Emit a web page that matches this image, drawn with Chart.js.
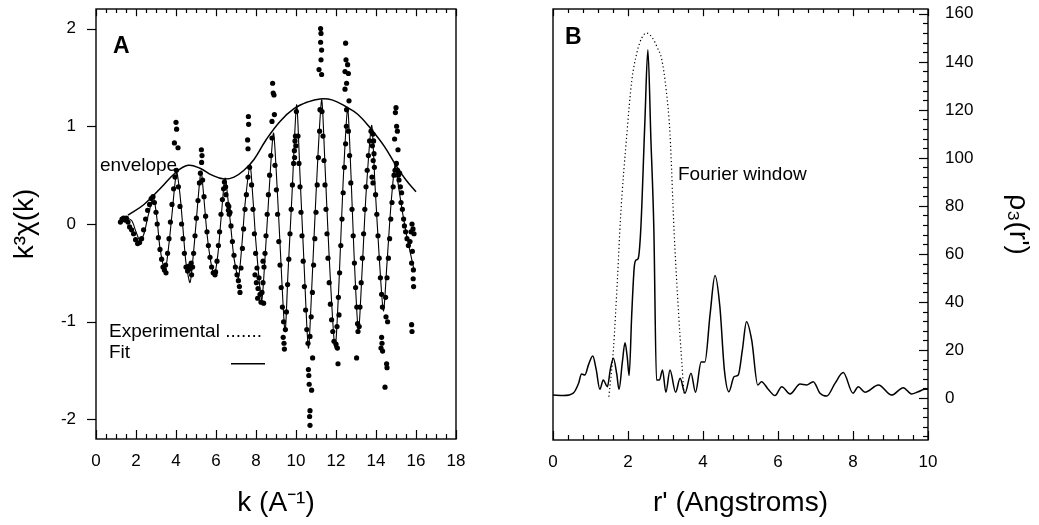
<!DOCTYPE html>
<html>
<head>
<meta charset="utf-8">
<script src="https://cdn.jsdelivr.net/npm/chart.js@4.4.1/dist/chart.umd.min.js"></script>
<style>
  body { margin: 0; background: #fff; }
  #wrap { position: relative; width: 1039px; height: 525px; }
  canvas { position: absolute; top: 0; }
  #chartA { left: 0; }
  #chartB { left: 530px; }
</style>
</head>
<body>
<div id="wrap">
  <canvas id="chartA" width="470" height="525"></canvas>
  <canvas id="chartB" width="509" height="525"></canvas>
</div>
<script>
const FONT = '"Liberation Sans", Arial, Helvetica, sans-serif';

// Panel A: experimental k^3 chi(k) points [k, value]
const expData = [
  [1.22,0.02],[1.3,0.05],[1.38,0.06],[1.45,0.04],[1.52,0.06],[1.6,0.02],[1.68,-0.03],[1.78,-0.06],[1.88,-0.1],[1.98,-0.16],
  [2.08,-0.2],[2.18,-0.19],[2.28,-0.15],[2.38,-0.06],[2.48,0.05],[2.58,0.14],[2.68,0.2],[2.76,0.26],[2.85,0.28],[2.92,0.22],
  [3.0,0.12],[3.06,0.0],[3.12,-0.14],[3.2,-0.26],[3.28,-0.36],[3.35,-0.44],[3.42,-0.47],[3.5,-0.5],[3.48,-0.42],[3.58,-0.3],
  [3.65,-0.15],[3.72,0.02],[3.8,0.2],[3.88,0.36],[3.95,0.48],[4.02,0.55],[4.0,1.04],[4.03,0.97],[3.92,0.83],[4.1,0.78],
  [4.12,0.38],[4.2,0.18],[4.28,0.0],[4.35,-0.15],[4.42,-0.3],[4.5,-0.44],[4.58,-0.48],[4.65,-0.43],[4.7,-0.46],[4.76,-0.4],
  [4.83,-0.44],[4.78,-0.52],[4.88,-0.3],[4.95,-0.12],[5.02,0.06],[5.1,0.24],[5.17,0.42],[5.22,0.52],[5.28,0.63],[5.3,0.7],[5.27,0.76],
  [5.33,0.45],[5.4,0.28],[5.48,0.08],[5.55,-0.08],[5.62,-0.22],[5.7,-0.34],[5.78,-0.44],[5.86,-0.5],[5.95,-0.52],[5.98,-0.49],
  [6.05,-0.38],[6.12,-0.22],[6.18,-0.08],[6.25,0.1],[6.32,0.25],[6.38,0.36],[6.42,0.43],[6.48,0.38],[6.5,0.3],
  [6.58,0.2],[6.62,0.14],[6.66,0.1],[6.7,0.12],[6.64,0.18],
  [6.75,-0.02],[6.82,-0.18],[6.9,-0.32],[6.97,-0.44],[7.05,-0.52],[7.12,-0.58],[7.17,-0.64],[7.2,-0.7],[7.25,-0.45],[7.32,-0.25],
  [7.38,-0.05],[7.45,0.15],[7.52,0.3],[7.6,0.48],[7.68,0.58],[7.62,1.1],[7.63,1.02],[7.58,0.86],[7.6,0.77],
  [7.78,0.4],[7.85,0.15],[7.92,-0.1],[7.98,-0.3],[7.95,-0.52],[8.02,-0.6],[8.05,-0.45],[8.1,-0.66],[8.08,-0.76],[8.15,-0.55],
  [8.2,-0.72],[8.25,-0.8],[8.3,-0.7],[8.35,-0.6],[8.38,-0.81],[8.4,-0.44],[8.45,-0.3],[8.35,-0.38],[8.5,-0.12],[8.56,0.1],
  [8.62,0.3],[8.68,0.5],[8.74,0.7],[8.8,0.88],[8.83,1.44],[8.86,1.34],[8.9,1.32],[8.8,1.05],[8.92,1.12],
  [8.95,0.6],[9.02,0.35],[9.08,0.1],[9.14,-0.18],[9.2,-0.42],[9.26,-0.65],[9.32,-0.85],[9.38,-1.0],[9.36,-1.16],[9.4,-1.22],
  [9.42,-1.28],[9.47,-1.08],[9.52,-0.9],[9.58,-0.62],[9.64,-0.36],[9.7,-0.1],[9.76,0.15],[9.82,0.4],[9.88,0.62],[9.92,0.75],
  [9.95,0.85],[9.97,0.9],[9.93,0.68],[10.0,0.8],[10.02,1.15],
  [10.1,0.9],[10.15,0.62],[10.2,0.38],[10.25,0.12],[10.3,-0.12],[10.36,-0.38],[10.42,-0.64],[10.48,-0.88],[10.54,-1.08],[10.6,-1.22],
  [10.62,-1.49],[10.64,-1.55],[10.66,-1.64],[10.78,-1.7],[10.7,-1.91],[10.68,-1.97],[10.7,-2.06],[10.83,-1.37],[10.7,-1.15],[10.76,-0.95],
  [10.82,-0.7],[10.88,-0.42],[10.94,-0.15],[11.0,0.12],[11.06,0.4],[11.12,0.68],[11.18,0.95],[11.2,1.17],[11.3,1.15],
  [11.23,2.0],[11.25,1.95],[11.23,1.86],[11.28,1.78],[11.25,1.68],[11.15,1.58],[11.28,1.53],
  [11.35,0.9],[11.4,0.65],[11.45,0.4],[11.5,0.15],[11.55,-0.1],[11.6,-0.35],[11.66,-0.6],[11.72,-0.82],[11.78,-0.98],[11.84,-1.1],
  [11.9,-1.2],[12.0,-1.23],[12.07,-1.27],[12.1,-1.43],[12.15,-0.93],[12.05,-1.05],[12.12,-0.75],[12.18,-0.5],[12.24,-0.22],[12.3,0.05],
  [12.36,0.32],[12.42,0.58],[12.48,0.82],[12.52,1.0],[12.48,1.85],[12.5,1.68],[12.58,1.63],[12.45,1.56],[12.62,1.54],[12.53,1.44],
  [12.45,1.38],[12.65,1.26],[12.53,1.17],
  [12.62,0.95],[12.68,0.7],[12.74,0.42],[12.8,0.15],[12.86,-0.12],[12.92,-0.4],[12.98,-0.65],[13.04,-0.85],[13.08,-1.02],[13.03,-1.37],
  [13.1,-1.1],[13.16,-1.05],[13.2,-0.85],[13.26,-0.6],[13.32,-0.35],[13.38,-0.1],[13.44,0.15],[13.5,0.38],[13.56,0.55],[13.62,0.7],
  [13.68,0.85],[13.75,0.95],[13.85,0.92],[13.88,0.85],[13.82,0.8],[13.9,0.72],[13.86,0.65],[13.92,0.58],[13.8,0.48],[13.85,0.42],
  [13.98,0.3],[14.04,0.1],[14.1,-0.12],[14.16,-0.35],[14.22,-0.55],[14.28,-0.72],[14.32,-0.85],[14.28,-1.16],[14.3,-1.22],[14.33,-1.3],
  [14.25,-1.27],[14.53,-1.43],[14.55,-1.47],[14.45,-1.67],[14.58,-1.0],[14.5,-0.95],[14.48,-0.75],[14.55,-0.55],[14.62,-0.35],[14.68,-0.15],
  [14.74,0.05],[14.8,0.22],[14.86,0.38],[14.9,0.5],[14.95,0.55],[15.0,1.19],[14.97,1.14],[15.03,1.0],[15.07,0.95],[14.93,0.87],[15.1,0.76],
  [15.02,0.62],[15.08,0.55],[15.12,0.5],[15.18,0.52],[15.15,0.45],[15.22,0.38],[15.28,0.32],[15.25,0.22],[15.32,0.15],[15.38,0.05],
  [15.42,-0.02],[15.48,-0.08],[15.55,-0.15],[15.62,-0.22],[15.7,-0.18],[15.75,-0.08],[15.8,0.0],[15.85,-0.05],[15.9,-0.1],[15.82,-0.28],
  [15.78,-0.4],[15.87,-0.47],[15.86,-0.56],[15.88,-0.64],[15.78,-1.03],[15.8,-1.1]
];

// Panel A: fit curve
const fitData = [
  [1.3,0.02],[1.55,0.06],[1.8,0.03],[2.0,-0.08],[2.2,-0.17],[2.4,-0.1],[2.6,0.08],[2.87,0.27],[3.05,0.05],[3.2,-0.25],
  [3.45,-0.48],[3.65,-0.2],[3.8,0.1],[4.03,0.53],[4.2,0.3],[4.35,-0.05],[4.5,-0.4],[4.7,-0.6],[4.85,-0.35],[5.0,0.0],
  [5.25,0.54],[5.4,0.25],[5.55,-0.1],[5.75,-0.4],[5.92,-0.52],[6.1,-0.3],[6.25,0.05],[6.45,0.47],[6.6,0.25],[6.75,-0.05],
  [6.9,-0.35],[7.12,-0.55],[7.3,-0.2],[7.45,0.2],[7.7,0.6],[7.85,0.25],[8.0,-0.2],[8.28,-0.78],[8.45,-0.35],[8.6,0.15],
  [8.87,0.93],[9.05,0.4],[9.2,-0.2],[9.45,-1.1],[9.6,-0.5],[9.8,0.3],[10.03,1.22],[10.2,0.5],[10.4,-0.4],[10.62,-1.27],
  [10.8,-0.6],[11.0,0.3],[11.28,1.27],[11.45,0.6],[11.65,-0.3],[11.95,-1.27],[12.15,-0.6],[12.35,0.4],[12.58,1.18],[12.75,0.5],
  [12.9,-0.3],[13.12,-1.1],[13.3,-0.5],[13.5,0.3],[13.78,1.01],[13.95,0.4],[14.15,-0.3],[14.37,-0.89],[14.55,-0.4],[14.75,0.2],
  [14.95,0.6],[15.1,0.42],[15.3,0.15],[15.5,-0.08],[15.7,-0.28],[15.88,-0.45]
];

// Panel A: envelope
const envelopeData = [
  [1.6,0.09],[2.4,0.2],[3.2,0.36],[4.0,0.53],[4.6,0.6],[5.2,0.57],[5.8,0.5],[6.4,0.46],[6.9,0.48],[7.4,0.55],
  [7.9,0.66],[8.5,0.86],[9.2,1.05],[9.9,1.18],[10.6,1.25],[11.2,1.28],[11.8,1.27],[12.5,1.2],[13.1,1.12],[13.8,0.96],
  [14.4,0.8],[15.0,0.6],[15.5,0.45],[16.0,0.33]
];

// Panel B: rho_3(r') and Fourier window
const rdfData = [
  [0,1.2],[0.28,1],[0.54,2],[0.68,6],[0.76,10],[0.85,9.6],[0.95,14],[1.06,17.5],[1.15,12],[1.25,3.6],
  [1.34,7.5],[1.45,4.7],[1.53,12],[1.61,16.5],[1.7,10],[1.76,3.6],[1.85,15],[1.92,23],[1.98,17],[2.03,9.4],
  [2.1,35],[2.17,55],[2.22,57.5],[2.27,58],[2.34,70],[2.45,115],[2.53,145],[2.61,108],[2.69,70],[2.76,7.5],
  [2.84,7.5],[2.92,11.7],[3.01,2.4],[3.12,11.7],[3.27,2.4],[3.39,8.2],[3.52,2],[3.68,10.3],[3.8,2.4],[3.95,15],
  [4.05,15],[4.19,35],[4.32,51],[4.45,38],[4.57,11.7],[4.69,2.6],[4.83,8.9],[4.94,9.6],[5.05,20],[5.16,31.8],
  [5.3,24],[5.46,5.4],[5.56,6.8],[5.74,3.6],[5.92,1],[6.1,4.7],[6.32,1.7],[6.59,5.8],[6.76,5.4],[6.94,6.8],
  [7.12,2],[7.3,0.8],[7.52,6.1],[7.74,10.6],[8.0,2],[8.14,4.7],[8.32,2.4],[8.68,5.4],[9.03,1.2],[9.34,4.3],
  [9.56,1.7],[9.74,2.6],[9.92,3.6],[10,3.6]
];
const windowData = [
  [1.49,0.5],[1.61,20],[1.72,50],[1.8,75],[1.97,110],[2.1,132],[2.24,144],[2.37,150],[2.5,152],[2.65,150],
  [2.78,146],[2.9,141],[3.02,128],[3.12,110],[3.23,69],[3.35,35],[3.49,2]
];

// text labels [text, x, y, bold, size]
const notesA = [
  ['A', 0.85, 1.81, true, 23],
  ['envelope', 0.2, 0.6, false, 19],
  ['Experimental .......', 0.65, -1.1, false, 19],
  ['Fit', 0.65, -1.32, false, 19]
];
const notesB = [
  ['B', 0.32, 150, true, 23],
  ['Fourier window', 3.33, 93, false, 19]
];
const fitSample = [6.75, 8.45, -1.43];

const pts = arr => arr.map(p => ({x: p[0], y: p[1]}));

// pin the plot box: no extra padding from label overflow
const pinX = h => s => { s.height = h; s.paddingLeft = 0; s.paddingRight = 0; s.paddingTop = 0; s.paddingBottom = 0; };
const pinY = w => s => { s.width = w; s.paddingLeft = 0; s.paddingRight = 0; s.paddingTop = 0; s.paddingBottom = 0; };

// frame, inward/outward tick marks and text notes
const decor = {
  id: 'decor',
  afterDraw(chart, args, o) {
    const {ctx, chartArea: a, scales} = chart;
    const xs = scales.x, ys = scales.y;
    ctx.save();
    ctx.strokeStyle = '#000';
    ctx.fillStyle = '#000';
    ctx.lineWidth = 1.4;
    ctx.strokeRect(a.left, a.top, a.right - a.left, a.bottom - a.top);
    ctx.lineWidth = 1.2;
    const seg = (x1, y1, x2, y2) => { ctx.beginPath(); ctx.moveTo(x1, y1); ctx.lineTo(x2, y2); ctx.stroke(); };
    const isMajor = (v, m) => Math.abs(v / m - Math.round(v / m)) < 1e-6;
    for (let i = 0; ; i++) {
      const v = xs.min + i * o.xMinor;
      if (v > xs.max + 1e-9) break;
      const len = isMajor(v, o.xMajor) ? 9 : 5;
      const px = Math.round(xs.getPixelForValue(v)) + 0.5;
      seg(px, a.bottom, px, a.bottom - len);
      seg(px, a.top, px, a.top + len * 0.8);
    }
    const y0 = Math.ceil(ys.min / o.yMinor) * o.yMinor;
    for (let i = 0; ; i++) {
      const v = y0 + i * o.yMinor;
      if (v > ys.max + 1e-9) break;
      const len = isMajor(v, o.yMajor) ? 9 : 5;
      const py = Math.round(ys.getPixelForValue(v)) + 0.5;
      if (o.ySide === 'left') seg(a.left - len, py, a.left, py);
      else seg(a.right - len, py, a.right, py);
    }
    ctx.textBaseline = 'middle';
    ctx.textAlign = 'left';
    o.notes.forEach(n => {
      ctx.font = (n[3] ? 'bold ' : '') + n[4] + 'px ' + FONT;
      ctx.fillText(n[0], xs.getPixelForValue(n[1]), ys.getPixelForValue(n[2]));
    });
    if (o.sample) {
      ctx.lineWidth = 1.6;
      const py = ys.getPixelForValue(o.sample[2]);
      seg(xs.getPixelForValue(o.sample[0]), py, xs.getPixelForValue(o.sample[1]), py);
    }
    ctx.restore();
  }
};

const tickFont = {family: FONT, size: 17};
const titleFont = {family: FONT, size: 28};

new Chart(document.getElementById('chartA'), {
  type: 'scatter',
  data: {
    datasets: [{
      data: pts(expData),
      pointRadius: 2.6,
      pointBackgroundColor: '#000',
      pointBorderWidth: 0,
      showLine: false
    }, {
      data: pts(fitData),
      showLine: true,
      pointRadius: 0,
      borderColor: '#000',
      borderWidth: 1.1,
      tension: 0.25
    }, {
      data: pts(envelopeData),
      showLine: true,
      pointRadius: 0,
      borderColor: '#000',
      borderWidth: 1.5,
      tension: 0.4
    }]
  },
  options: {
    responsive: false,
    animation: false,
    events: [],
    layout: {padding: {top: 9, right: 14, left: 0, bottom: 0}},
    plugins: {
      legend: {display: false},
      tooltip: {enabled: false},
      decor: {xMinor: 0.5, xMajor: 2, yMinor: 1, yMajor: 1, ySide: 'left', notes: notesA, sample: fitSample}
    },
    scales: {
      x: {
        type: 'linear', min: 0, max: 18,
        afterFit: pinX(86),
        border: {display: false},
        grid: {display: true, drawOnChartArea: false, drawTicks: false},
        ticks: {stepSize: 2, color: '#000', font: tickFont, padding: 12, maxRotation: 0},
        title: {display: true, text: 'k (A\u207B\u00B9)', color: '#000', font: titleFont, padding: {top: 0, bottom: 5}}
      },
      y: {
        type: 'linear', min: -2.2, max: 2.2,
        afterFit: pinY(96),
        border: {display: false},
        grid: {display: true, drawOnChartArea: false, drawTicks: false},
        ticks: {stepSize: 1, includeBounds: false, color: '#000', font: tickFont, padding: 20},
        title: {display: true, text: 'k\u00B3\u03C7(k)', color: '#000', font: titleFont, padding: {top: 8, bottom: 0}}
      }
    }
  },
  plugins: [decor]
});

new Chart(document.getElementById('chartB'), {
  type: 'scatter',
  data: {
    datasets: [{
      data: pts(rdfData),
      showLine: true,
      pointRadius: 0,
      borderColor: '#000',
      borderWidth: 1.5,
      cubicInterpolationMode: 'monotone'
    }, {
      data: pts(windowData),
      showLine: true,
      pointRadius: 0,
      borderColor: '#000',
      borderWidth: 1.2,
      borderDash: [1.2, 2.6],
      cubicInterpolationMode: 'monotone'
    }]
  },
  options: {
    responsive: false,
    animation: false,
    events: [],
    layout: {padding: {top: 9, right: 0, left: 23, bottom: 0}},
    plugins: {
      legend: {display: false},
      tooltip: {enabled: false},
      decor: {xMinor: 0.4, xMajor: 2, yMinor: 4, yMajor: 20, ySide: 'right', notes: notesB}
    },
    scales: {
      x: {
        type: 'linear', min: 0, max: 10,
        afterFit: pinX(85),
        border: {display: false},
        grid: {display: true, drawOnChartArea: false, drawTicks: false},
        ticks: {stepSize: 2, color: '#000', font: tickFont, padding: 12, maxRotation: 0},
        title: {display: true, text: "r' (Angstroms)", color: '#000', font: titleFont, padding: {top: 0, bottom: 5}}
      },
      y: {
        type: 'linear', position: 'right', min: -17.5, max: 162,
        afterFit: pinY(111),
        border: {display: false},
        grid: {display: true, drawOnChartArea: false, drawTicks: false},
        ticks: {stepSize: 20, includeBounds: false, color: '#000', font: tickFont, padding: 17},
        title: {display: true, text: "\u03C1\u2083(r')", color: '#000', font: titleFont, padding: {top: 4, bottom: 0}}
      }
    }
  },
  plugins: [decor]
});
</script>
</body>
</html>
